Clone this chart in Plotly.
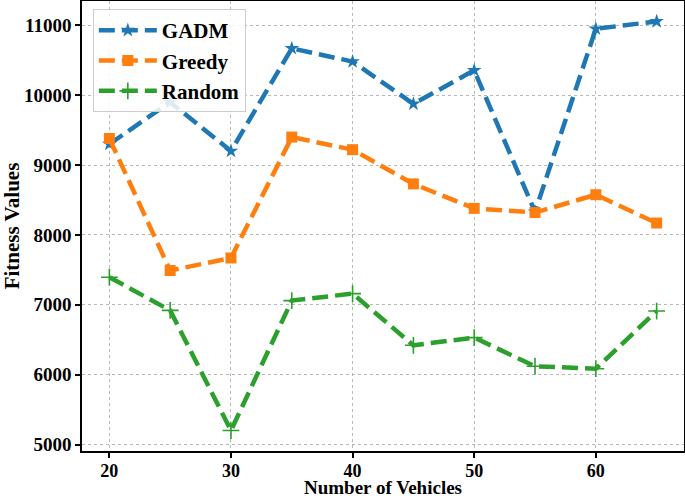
import plotly.graph_objects as go

vehicles = [20, 25, 30, 35, 40, 45, 50, 55, 60, 65]
gadm = [9300, 9900, 9200, 10670, 10480, 9875, 10355, 8330, 10950, 11055]
greedy = [9380, 7490, 7670, 9400, 9220, 8730, 8380, 8320, 8575, 8170]
random_vals = [7395, 6920, 5200, 7060, 7160, 6420, 6530, 6120, 6085, 6910]

x_ticks = [20, 30, 40, 50, 60]
y_ticks = [5000, 6000, 7000, 8000, 9000, 10000, 11000]

series = [
    ("GADM", gadm, "#1f77b4", "star", 11, 0),
    ("Greedy", greedy, "#ff7f0e", "square", 11, 0),
    ("Random", random_vals, "#2ca02c", "cross-thin", 12, 1.6),
]

FONT = "Liberation Serif"
fig = go.Figure()
for name, vals, color, sym, size, lw in series:
    fig.add_trace(go.Scatter(
        x=vehicles, y=vals, name="<b>" + name + "</b>", mode="lines+markers",
        legendgroup=name,
        line=dict(color=color, width=4.5, dash="16px,7px"),
        marker=dict(symbol=sym, size=size, color=color,
                    line=dict(color=color, width=lw)),
    ))

all_y = gadm + greedy + random_vals
ymin, ymax = min(all_y), max(all_y)
pad = 0.05 * (ymax - ymin)
xpad = 0.05 * (max(vehicles) - min(vehicles))

axis_common = dict(
    showline=True, mirror=True, linecolor="black", linewidth=1.5,
    ticks="outside", ticklen=5, tickwidth=1.5, tickcolor="black",
    showgrid=True, gridcolor="#b8b8b8", gridwidth=1, griddash="dot",
    zeroline=False,
)

fig.update_xaxes(
    range=[min(vehicles) - xpad, max(vehicles) + xpad],
    tickvals=x_ticks, ticktext=["<b>%d</b>" % v for v in x_ticks],
    tickfont=dict(family=FONT, size=18, color="black"),
    ticklabelstandoff=-2,
    **axis_common,
)
fig.update_yaxes(
    range=[ymin - pad, ymax + pad],
    tickvals=y_ticks, ticktext=["<b>%d</b>" % v for v in y_ticks],
    tickfont=dict(family=FONT, size=19, color="black"),
    title=dict(text="<b>Fitness Values</b>", standoff=1,
               font=dict(family=FONT, size=21, color="black")),
    **axis_common,
)

fig.add_annotation(
    text="<b>Number of Vehicles</b>", xref="paper", yref="paper",
    x=0.5, y=0, xanchor="center", yanchor="top", yshift=-24,
    showarrow=False, font=dict(family=FONT, size=19, color="black"),
)

fig.update_layout(
    width=685, height=499,
    font=dict(family=FONT, color="black"),
    margin=dict(l=82, r=1, t=1, b=48, autoexpand=False),
    plot_bgcolor="white", paper_bgcolor="white",
    legend=dict(
        x=0.018, y=0.982, xanchor="left", yanchor="top",
        bgcolor="rgba(255,255,255,0.85)", bordercolor="#cccccc", borderwidth=1,
        font=dict(family=FONT, size=21, color="black"),
        tracegroupgap=0, itemwidth=58,
    ),
)

fig.write_html("out.html", config={"displayModeBar": False},
               post_script="document.body.style.margin='0';")
